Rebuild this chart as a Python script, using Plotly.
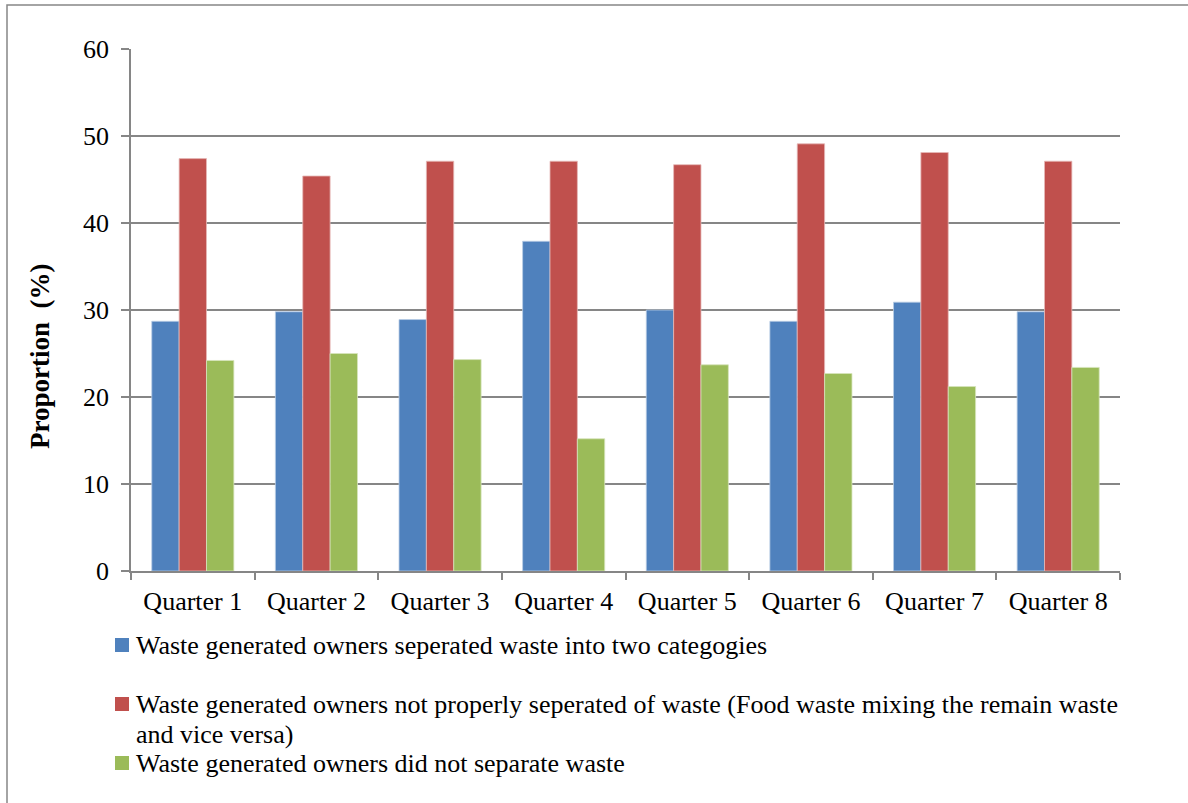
import plotly.graph_objects as go

quarters = ["Quarter 1", "Quarter 2", "Quarter 3", "Quarter 4",
            "Quarter 5", "Quarter 6", "Quarter 7", "Quarter 8"]
separated_two = [28.7, 29.8, 28.9, 37.9, 30.0, 28.7, 30.9, 29.8]
not_properly = [47.4, 45.4, 47.1, 47.1, 46.7, 49.1, 48.1, 47.1]
not_separated = [24.2, 25.0, 24.3, 15.2, 23.7, 22.7, 21.2, 23.4]

# legend labels, one list of wrapped lines per series
series_labels = [
    ["Waste generated owners seperated waste into two categogies"],
    ["Waste generated owners not properly seperated of waste (Food waste mixing the remain waste",
     "and vice versa)"],
    ["Waste generated owners did not separate waste"],
]
colors = ["#4F81BD", "#C0504D", "#9BBB59"]
edges = ["#B9CDE5", "#E6B9B8", "#D7E4BD"]

W, H = 1188, 803
L, R, T, B = 131, 68, 49, 232
FONT = "Liberation Serif"
GRID = "#868686"
FS = 26

pw, ph = W - L - R, H - T - B


def px_x(x):
    return (x - L) / pw


def px_y(y):
    return (T + ph - y) / ph


fig = go.Figure()
for lines, vals, c, e in zip(series_labels, [separated_two, not_properly, not_separated], colors, edges):
    fig.add_trace(go.Bar(x=quarters, y=vals, name=" ".join(lines), showlegend=False,
                         marker=dict(color=c, line=dict(color=e, width=0.8))))

fig.update_layout(
    width=W, height=H,
    margin=dict(l=L, r=R, t=T, b=B),
    paper_bgcolor="white", plot_bgcolor="white",
    barmode="group", bargap=0.336, bargroupgap=0,
    font=dict(family=FONT, size=FS, color="black"),
    xaxis=dict(showline=True, linecolor=GRID, linewidth=1.5,
               ticks="outside", tickson="boundaries", ticklen=7, tickcolor=GRID, tickwidth=1.5,
               tickfont=dict(family=FONT, size=FS, color="black"), showgrid=False,
               ticklabelstandoff=6),
    yaxis=dict(range=[0, 60], dtick=10, showline=True, linecolor=GRID, linewidth=1.5,
               ticks="outside", ticklen=8, tickcolor=GRID, tickwidth=1.5,
               gridcolor=GRID, gridwidth=1.5, zeroline=False,
               tickfont=dict(family=FONT, size=FS, color="black"),
               ticklabelstandoff=7),
    showlegend=False,
)

# legend drawn below the plot: coloured square + label lines
entry_rows = [645, 704, 763]
line_step = 30
for lines, c, yc in zip(series_labels, colors, entry_rows):
    fig.add_shape(type="rect", xref="paper", yref="paper",
                  x0=px_x(115), x1=px_x(129), y0=px_y(yc + 7), y1=px_y(yc - 7),
                  line=dict(width=0), fillcolor=c)
    for i, txt in enumerate(lines):
        fig.add_annotation(text=txt, xref="paper", yref="paper",
                           x=px_x(134), y=px_y(yc + i * line_step),
                           xanchor="left", yanchor="middle", showarrow=False,
                           font=dict(family=FONT, size=FS, color="black"))

fig.add_annotation(text="<b>Proportion  (%)</b>", textangle=-90,
                   xref="paper", yref="paper",
                   x=px_x(40), y=px_y(357), xanchor="center", yanchor="middle",
                   showarrow=False, font=dict(size=27, family=FONT, color="black"))

# outer chart border
fig.add_shape(type="rect", xref="paper", yref="paper",
              x0=px_x(7), x1=px_x(1200), y0=px_y(820), y1=px_y(5),
              line=dict(color=GRID, width=1.5), fillcolor="rgba(0,0,0,0)", layer="below")

fig.write_html("out.html")
